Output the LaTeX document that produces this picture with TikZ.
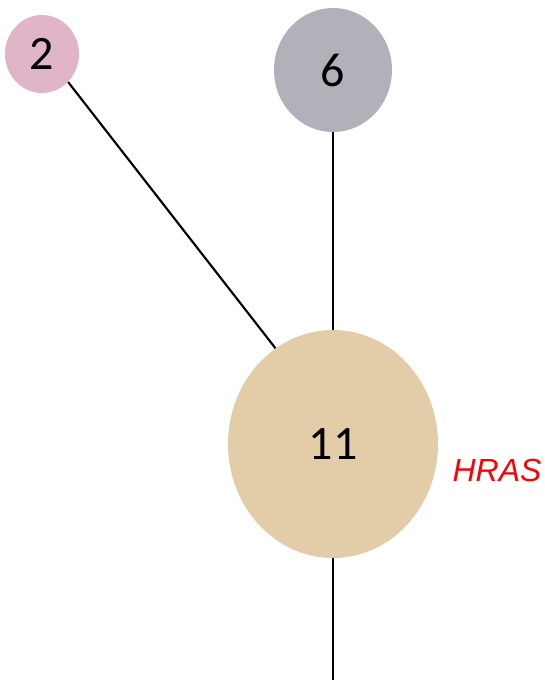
\documentclass[tikz,border=0pt]{standalone}
\usepackage{fontspec}
\setmainfont{Carlito}
\newfontfamily\arialfont{Liberation Sans}
\usetikzlibrary{shapes.geometric}
\definecolor{pinkc}{HTML}{E0B5C8}
\definecolor{grayc}{HTML}{B1B1B9}
\definecolor{tanc}{HTML}{E2CDA8}
\definecolor{redc}{HTML}{FF0000}
\begin{document}
\begin{tikzpicture}[x=0.75pt,y=-0.75pt,
  blob/.style={ellipse,inner sep=0pt,draw=none,font=\fontsize{36}{40}\selectfont},
  link/.style={line width=1.6pt,black}]
\useasboundingbox (0,0) rectangle (544,683);
\node[blob,fill=pinkc,minimum width=55.5pt,minimum height=58.5pt] (n2) at (42,54) {2};
\node[blob,fill=grayc,minimum width=88.5pt,minimum height=93pt] (n6) at (333,70) {6};
\node[blob,fill=tanc,minimum width=157.5pt,minimum height=171pt] (n11) at (333,444) {11};
\node[text=redc,font=\arialfont\itshape\fontsize{24}{28}\selectfont] (hras) at (497,470) {HRAS};
\coordinate (end) at (333,680);
\draw[link] (n2.-47) -- (n11.121);
\draw[link] (n6) -- (n11);
\draw[link] (n11) -- (end);
\end{tikzpicture}
\end{document}
